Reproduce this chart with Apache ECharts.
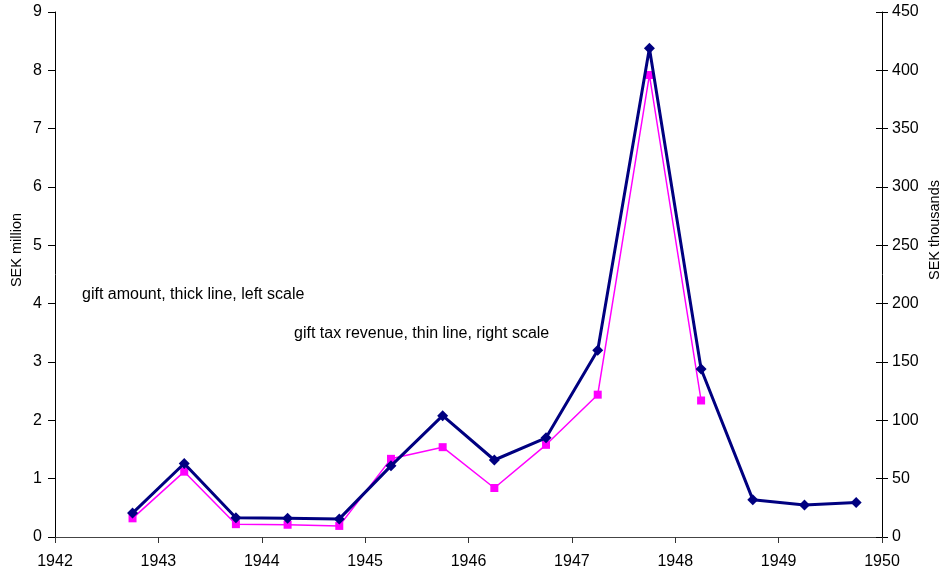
<!DOCTYPE html>
<html>
<head>
<meta charset="utf-8">
<script src="https://cdn.jsdelivr.net/npm/echarts@6/dist/echarts.min.js"></script>
<style>
  html, body { margin: 0; padding: 0; background: #fff; }
  #chart { width: 946px; height: 573px; }
</style>
</head>
<body>
<div id="chart"></div>
<script>
// half-year observation points
const periods = [1942.75, 1943.25, 1943.75, 1944.25, 1944.75, 1945.25, 1945.75,
  1946.25, 1946.75, 1947.25, 1947.75, 1948.25, 1948.75, 1949.25, 1949.75]

// gift amount, SEK million (left scale)
const giftAmount = [0.41, 1.26, 0.33, 0.32, 0.31, 1.22, 2.08,
  1.32, 1.70, 3.20, 8.38, 2.88, 0.64, 0.55, 0.59]

// gift tax revenue, SEK thousands (right scale)
const giftTax = [16, 56, 11, 10.5, 9.5, 67, 77,
  42, 79, 122, 396, 117, null, null, null]

const font = 'Liberation Sans, Arial, sans-serif'
const axisColor = '#000'

const pairs = (vals) => periods.map((p, i) => [p, vals[i]])

const chart = echarts.init(document.getElementById('chart'))

const labelStyle = { color: '#000', fontSize: 16, fontFamily: font }

chart.setOption({
  animation: false,
  grid: { left: 55, right: 64, top: 12, bottom: 36 },
  textStyle: { fontFamily: font },
  xAxis: {
    type: 'value',
    min: 1942,
    max: 1950,
    interval: 1,
    axisLine: { lineStyle: { color: '#444', width: 1 } },
    axisTick: { show: true, inside: false, length: 6, lineStyle: { color: '#333' } },
    axisLabel: { ...labelStyle, margin: 17, formatter: (v) => String(v) },
    splitLine: { show: false },
  },
  yAxis: [
    {
      type: 'value',
      min: 0,
      max: 9,
      interval: 1,
      axisLine: { show: true, lineStyle: { color: axisColor } },
      axisTick: { show: true, length: 7, lineStyle: { color: axisColor } },
      axisLabel: { ...labelStyle, margin: 13 },
      splitLine: { show: false },
    },
    {
      type: 'value',
      min: 0,
      max: 450,
      interval: 50,
      position: 'right',
      axisLine: { show: true, lineStyle: { color: axisColor } },
      axisTick: { show: true, length: 6, lineStyle: { color: axisColor } },
      axisLabel: { ...labelStyle, margin: 10 },
      splitLine: { show: false },
    },
    {
      // inner half of the crossing ticks on the right scale
      type: 'value',
      min: 0,
      max: 450,
      interval: 50,
      position: 'right',
      axisLine: { show: false },
      axisTick: { show: true, inside: true, length: 6, lineStyle: { color: axisColor } },
      axisLabel: { show: false },
      splitLine: { show: false },
    },
  ],
  graphic: [
    {
      type: 'text',
      x: 17,
      y: 250,
      rotation: Math.PI / 2,
      style: { text: 'SEK million', fontSize: 14.5, fill: '#000', fontFamily: font, align: 'center', verticalAlign: 'middle' },
    },
    {
      type: 'text',
      x: 935,
      y: 230,
      rotation: Math.PI / 2,
      style: { text: 'SEK thousands', fontSize: 14.5, fill: '#000', fontFamily: font, align: 'center', verticalAlign: 'middle' },
    },
    {
      type: 'text',
      x: 82,
      y: 295,
      style: { text: 'gift amount, thick line, left scale', fontSize: 16, fill: '#000', fontFamily: font, verticalAlign: 'middle' },
    },
    {
      type: 'text',
      x: 294,
      y: 334,
      style: { text: 'gift tax revenue, thin line, right scale', fontSize: 16, fill: '#000', fontFamily: font, verticalAlign: 'middle' },
    },
  ],
  series: [
    {
      name: 'gift tax revenue',
      type: 'line',
      yAxisIndex: 1,
      data: pairs(giftTax),
      symbol: 'rect',
      symbolSize: 8,
      lineStyle: { color: '#ff00ff', width: 1.5 },
      itemStyle: { color: '#ff00ff' },
      emphasis: { disabled: true },
      z: 2,
    },
    {
      name: 'gift amount',
      type: 'line',
      yAxisIndex: 0,
      data: pairs(giftAmount),
      symbol: 'diamond',
      symbolSize: 11,
      lineStyle: { color: '#000080', width: 3 },
      itemStyle: { color: '#000080' },
      emphasis: { disabled: true },
      z: 3,
    },
  ],
})
</script>
</body>
</html>
